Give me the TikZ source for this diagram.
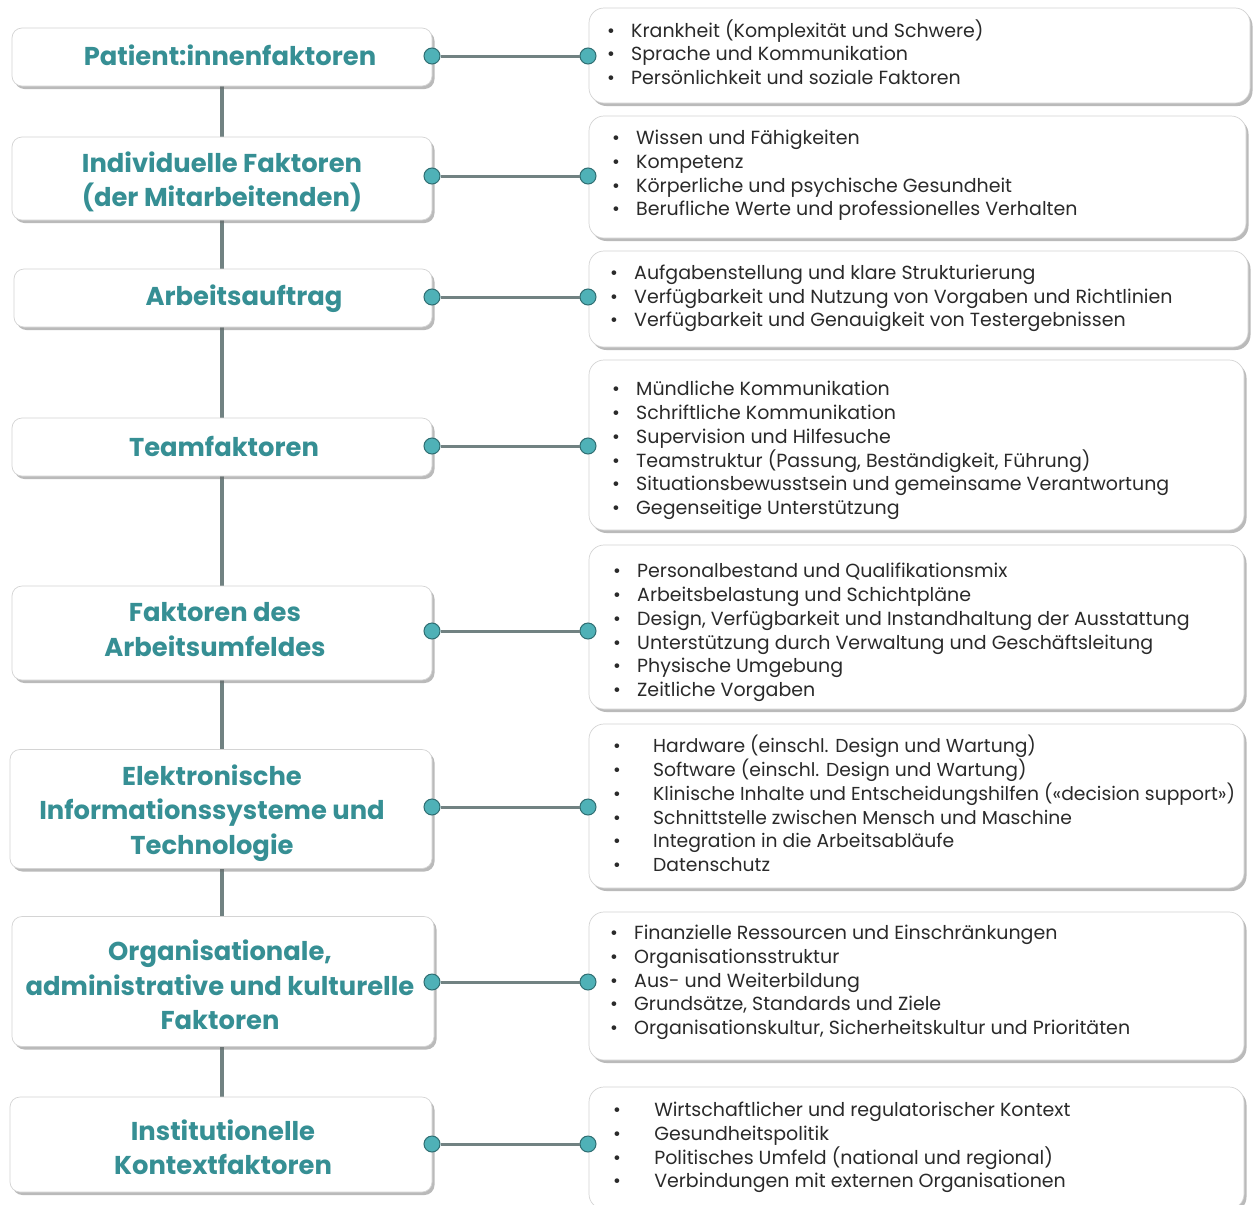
\documentclass[tikz,border=0pt]{standalone}
\usepackage{fontspec}
\setmainfont{Poppins}
\usetikzlibrary{shadows}
\definecolor{tealtxt}{HTML}{368F94}
\definecolor{dotfill}{HTML}{4FB1B7}
\definecolor{dotdraw}{HTML}{2F6E72}
\definecolor{linegray}{HTML}{718282}
\definecolor{boxline}{HTML}{D4D4D4}
\definecolor{bodytxt}{HTML}{2A2A2A}
\newcommand\bl[1][24pt]{\makebox[#1][l]{•}}
\tikzset{
  shadowed/.style={drop shadow={shadow xshift=2.5pt, shadow yshift=-3pt, opacity=0.45, fill=black!60}},
  lbox/.style={draw=boxline, line width=0.7pt, fill=white, rounded corners=10pt, shadowed, inner sep=0pt},
  rbox/.style={draw=boxline, line width=0.7pt, fill=white, rounded corners=15pt, shadowed, inner sep=0pt},
  ltext/.style={text=tealtxt, font=\fontsize{25.8}{34.5}\selectfont\bfseries, align=center, inner sep=0pt},
  rtext/.style={anchor=west, align=left, font=\fontsize{19}{23.7}\selectfont, text=bodytxt, inner sep=0pt},
  rtextsm/.style={rtext, font=\fontsize{18.75}{23.7}\selectfont},
  dotc/.style={circle, draw=dotdraw, fill=dotfill, line width=1pt, minimum size=16pt, inner sep=0pt},
  link/.style={draw=linegray, line width=3pt},
  spine/.style={draw=linegray, line width=4pt},
}
\begin{document}
\begin{tikzpicture}[x=1pt,y=-1pt]
\useasboundingbox (0,0) rectangle (1254,1205);
\clip (0,0) rectangle (1254,1205);
\fill[white] (0,0) rectangle (1254,1205);

% spine segments (drawn first, behind boxes)
\coordinate (s1) at (222,86);
\coordinate (s2) at (222,138);
\coordinate (s3) at (222,220);
\coordinate (s4) at (222,269);
\coordinate (s5) at (222,327);
\coordinate (s6) at (222,418);
\coordinate (s7) at (222,476);
\coordinate (s8) at (222,587);
\coordinate (s9) at (222,680);
\coordinate (s10) at (222,750);
\coordinate (s11) at (222,868);
\coordinate (s12) at (222,917);
\coordinate (s13) at (222,1046);
\coordinate (s14) at (222,1097);
\draw[spine] (s1) -- (s2);
\draw[spine] (s3) -- (s4);
\draw[spine] (s5) -- (s6);
\draw[spine] (s7) -- (s8);
\draw[spine] (s9) -- (s10);
\draw[spine] (s11) -- (s12);
\draw[spine] (s13) -- (s14);

% left boxes
\node[lbox, minimum width=420pt, minimum height=58pt] (L1) at (222,57) {};
\node[lbox, minimum width=420pt, minimum height=83pt] (L2) at (222,178.5) {};
\node[lbox, minimum width=418pt, minimum height=58pt] (L3) at (223,298) {};
\node[lbox, minimum width=420pt, minimum height=58pt] (L4) at (222,447) {};
\node[lbox, minimum width=420pt, minimum height=94pt] (L5) at (222,633) {};
\node[lbox, minimum width=422pt, minimum height=119pt] (L6) at (221,809) {};
\node[lbox, minimum width=422pt, minimum height=130pt] (L7) at (223,981.5) {};
\node[lbox, minimum width=422pt, minimum height=95pt] (L8) at (221,1144.5) {};

\node[ltext] (T1) at (230,55) {Patient:innenfaktoren};
\node[ltext] (T2) at (222,182) {Individuelle Faktoren\\(der Mitarbeitenden)};
\node[ltext] (T3) at (244,299) {Arbeitsauftrag};
\node[ltext] (T4) at (224,446) {Teamfaktoren};
\node[ltext] (T5) at (215,629.5) {Faktoren des\\Arbeitsumfeldes};
\node[ltext] (T6) at (212,813) {Elektronische\\Informationssysteme und\\Technologie};
\node[ltext] (T7) at (220,985) {Organisationale,\\administrative und kulturelle\\Faktoren};
\node[ltext] (T8) at (223,1147.5) {Institutionelle\\Kontextfaktoren};

% right boxes
\node[rbox, minimum width=661pt, minimum height=95pt] (R1) at (919.5,55.5) {};
\node[rbox, minimum width=657pt, minimum height=122pt] (R2) at (917.5,177) {};
\node[rbox, minimum width=659pt, minimum height=96pt] (R3) at (918.5,299) {};
\node[rbox, minimum width=655pt, minimum height=170pt] (R4) at (916.5,445) {};
\node[rbox, minimum width=655pt, minimum height=164pt] (R5) at (916.5,627) {};
\node[rbox, minimum width=655pt, minimum height=164pt] (R6) at (916.5,806) {};
\node[rbox, minimum width=655pt, minimum height=148pt] (R7) at (916.5,986) {};
\node[rbox, minimum width=655pt, minimum height=122pt] (R8) at (916.5,1148) {};

\node[rtext] (U1) at (607,52) {\bl Krankheit (Komplexität und Schwere)\\\bl Sprache und Kommunikation\\\bl Persönlichkeit und soziale Faktoren};
\node[rtext] (U2) at (612,175.5) {\bl Wissen und Fähigkeiten\\\bl Kompetenz\\\bl Körperliche und psychische Gesundheit\\\bl Berufliche Werte und professionelles Verhalten};
\node[rtext] (U3) at (610,298.5) {\bl Aufgabenstellung und klare Strukturierung\\\bl Verfügbarkeit und Nutzung von Vorgaben und Richtlinien\\\bl Verfügbarkeit und Genauigkeit von Testergebnissen};
\node[rtext] (U4) at (612,450.5) {\bl Mündliche Kommunikation\\\bl Schriftliche Kommunikation\\\bl Supervision und Hilfesuche\\\bl Teamstruktur (Passung, Beständigkeit, Führung)\\\bl Situationsbewusstsein und gemeinsame Verantwortung\\\bl Gegenseitige Unterstützung};
\node[rtext] (U5) at (613,632.5) {\bl Personalbestand und Qualifikationsmix\\\bl Arbeitsbelastung und Schichtpläne\\\bl Design, Verfügbarkeit und Instandhaltung der Ausstattung\\\bl Unterstützung durch Verwaltung und Geschäftsleitung\\\bl Physische Umgebung\\\bl Zeitliche Vorgaben};
\node[rtextsm] (U6) at (613,803.5) {\bl[35pt] Hardware (einschl. Design und Wartung)\\\bl[35pt] Software (einschl. Design und Wartung)\\\bl[35pt] Klinische Inhalte und Entscheidungshilfen («decision support»)\\\bl[35pt] Schnittstelle zwischen Mensch und Maschine\\\bl[35pt] Integration in die Arbeitsabläufe\\\bl[35pt] Datenschutz};
\node[rtext] (U7) at (610,982.5) {\bl Finanzielle Ressourcen und Einschränkungen\\\bl Organisationsstruktur\\\bl Aus- und Weiterbildung\\\bl Grundsätze, Standards und Ziele\\\bl Organisationskultur, Sicherheitskultur und Prioritäten};
\node[rtext] (U8) at (613,1147.5) {\bl[36pt] Wirtschaftlicher und regulatorischer Kontext\\\bl[36pt] Gesundheitspolitik\\\bl[36pt] Politisches Umfeld (national und regional)\\\bl[36pt] Verbindungen mit externen Organisationen};

% connectors with dots
\foreach \i/\y in {1/56,2/176,3/297,4/446,5/631,6/807,7/982,8/1144}{
  \node[dotc] (da\i) at (432,\y) {};
  \node[dotc] (db\i) at (588,\y) {};
  \draw[link] (da\i.east) -- (db\i.west);
}
\end{tikzpicture}
\end{document}
